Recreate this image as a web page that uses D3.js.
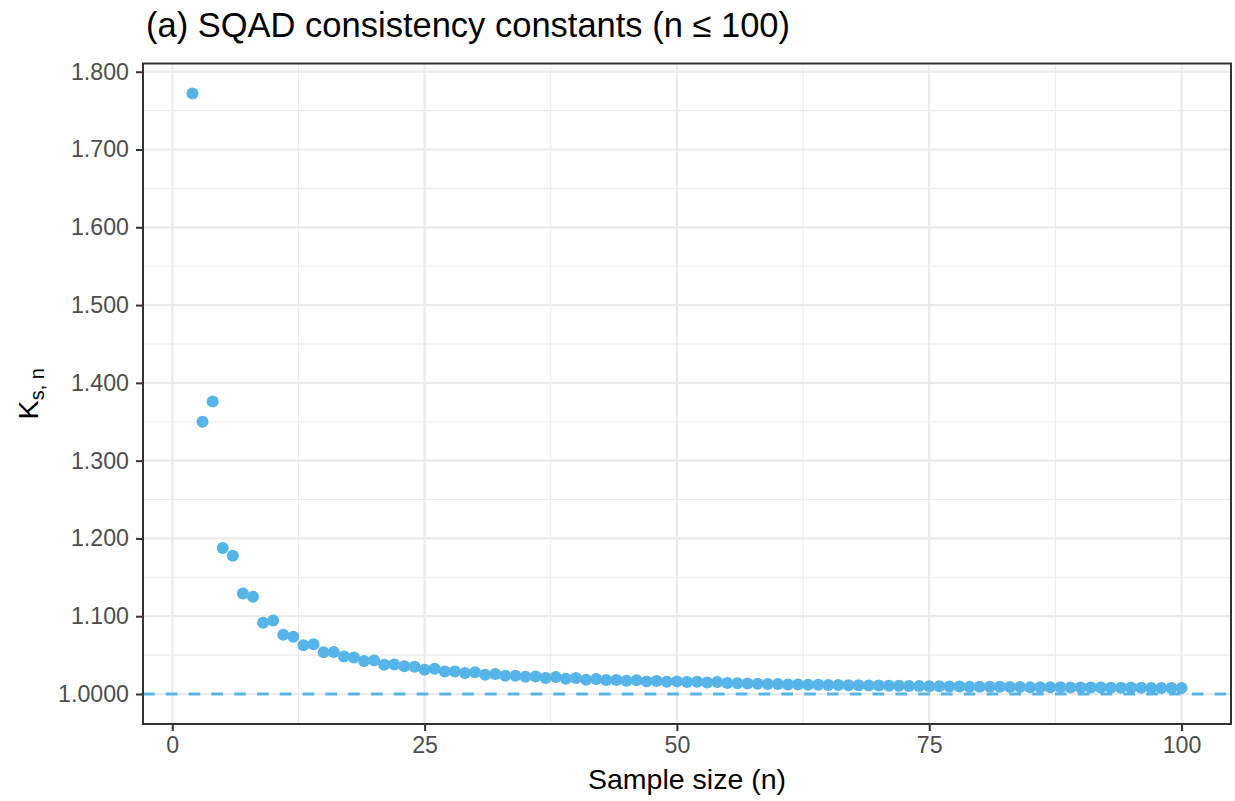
<!DOCTYPE html>
<html><head><meta charset="utf-8">
<script src="https://cdn.jsdelivr.net/npm/d3@7"></script>
<style>
html,body{margin:0;padding:0;background:#fff;}
svg{display:block;font-family:"Liberation Sans",Arial,Helvetica,sans-serif;}
</style></head>
<body>
<svg id="chart" width="1235" height="801"></svg>
<script>
// ---- data ----
const sampleSizes = d3.range(2, 101);
const constants = [
  1.772, 1.350, 1.376, 1.1877, 1.1778, 1.1293, 1.1251, 1.0917, 1.0946, // n=2..10
  1.0762, 1.0737, 1.0625, 1.0638, 1.0535, 1.0540, 1.0483, 1.0470, 1.0424, 1.0432, // 11..20
  1.0377, 1.0380, 1.0355, 1.0351, 1.0312, 1.0325, 1.0290, 1.0290, 1.0270, 1.0278, // 21..30
  1.0248, 1.0257, 1.0235, 1.0235, 1.0222, 1.0226, 1.0206, 1.0218, 1.0197, 1.0206, // 31..40
  1.0184, 1.0193, 1.0180, 1.0180, 1.0171, 1.0175, 1.0162, 1.0167, 1.0158, 1.0162, // 41..50
  1.0154, 1.0158, 1.0149, 1.0154, 1.0140, 1.0138, 1.0134, 1.0132, 1.0128, 1.0127, // 51..60
  1.0123, 1.0122, 1.0119, 1.0118, 1.0115, 1.0114, 1.0112, 1.0111, 1.0108, 1.0108, // 61..70
  1.0105, 1.0105, 1.0102, 1.0102, 1.0100, 1.0099, 1.0097, 1.0097, 1.0094, 1.0094, // 71..80
  1.0092, 1.0092, 1.0090, 1.0090, 1.0088, 1.0088, 1.0086, 1.0086, 1.0084, 1.0084, // 81..90
  1.0082, 1.0082, 1.0081, 1.0081, 1.0079, 1.0079, 1.0078, 1.0078, 1.0076, 1.0077  // 91..100
];
const referenceLine = 1.0;
const xTicks = [0, 25, 50, 75, 100];
const xTickLabels = ["0", "25", "50", "75", "100"];
const xMinor = [12.5, 37.5, 62.5, 87.5];
const yTicks = [1.0, 1.1, 1.2, 1.3, 1.4, 1.5, 1.6, 1.7, 1.8];
const yTickLabels = ["1.0000", "1.100", "1.200", "1.300", "1.400", "1.500", "1.600", "1.700", "1.800"];
const yMinor = [1.05, 1.15, 1.25, 1.35, 1.45, 1.55, 1.65, 1.75];
const titleText = "(a) SQAD consistency constants (n \u2264 100)";
const xTitle = "Sample size (n)";

// ---- layout ----
const panel = {left: 143, right: 1231, top: 63.5, bottom: 724};
const color = "#56B4E9";
const svg = d3.select("#chart");

const xr = [d3.min(sampleSizes), d3.max(sampleSizes)];
const xpad = (xr[1] - xr[0]) * 0.05;
const x = d3.scaleLinear().domain([xr[0] - xpad, xr[1] + xpad]).range([panel.left, panel.right]);
const yr = [Math.min(d3.min(constants), referenceLine), d3.max(constants)];
const ypad = (yr[1] - yr[0]) * 0.05;
const y = d3.scaleLinear().domain([yr[0] - ypad, yr[1] + ypad]).range([panel.bottom, panel.top]);

const W = panel.right - panel.left, H = panel.bottom - panel.top;
svg.append("rect").attr("x", panel.left).attr("y", panel.top).attr("width", W).attr("height", H).attr("fill", "#fff");

const grid = svg.append("g");
// minor grid
grid.selectAll(".ym").data(yMinor).join("line")
  .attr("x1", panel.left).attr("x2", panel.right).attr("y1", d => y(d)).attr("y2", d => y(d))
  .attr("stroke", "#EBEBEB").attr("stroke-width", 1.1);
grid.selectAll(".xm").data(xMinor).join("line")
  .attr("y1", panel.top).attr("y2", panel.bottom).attr("x1", d => x(d)).attr("x2", d => x(d))
  .attr("stroke", "#EBEBEB").attr("stroke-width", 1.1);
// major grid
grid.selectAll(".yM").data(yTicks).join("line")
  .attr("x1", panel.left).attr("x2", panel.right).attr("y1", d => y(d)).attr("y2", d => y(d))
  .attr("stroke", "#EBEBEB").attr("stroke-width", 2.2);
grid.selectAll(".xM").data(xTicks).join("line")
  .attr("y1", panel.top).attr("y2", panel.bottom).attr("x1", d => x(d)).attr("x2", d => x(d))
  .attr("stroke", "#EBEBEB").attr("stroke-width", 2.2);

// reference dashed line
svg.append("line")
  .attr("x1", panel.left).attr("x2", panel.right)
  .attr("y1", y(referenceLine)).attr("y2", y(referenceLine))
  .attr("stroke", color).attr("stroke-width", 2.9).attr("stroke-dasharray", "11.6,11.2");

// points
svg.append("g").selectAll("circle").data(sampleSizes).join("circle")
  .attr("cx", (d) => x(d)).attr("cy", (d, i) => y(constants[i]))
  .attr("r", 6).attr("fill", color);

// panel border
svg.append("rect").attr("x", panel.left).attr("y", panel.top).attr("width", W).attr("height", H)
  .attr("fill", "none").attr("stroke", "#333333").attr("stroke-width", 2);

// axes
const xAxis = d3.axisBottom(x).tickValues(xTicks).tickFormat((d, i) => xTickLabels[i]).tickSize(7).tickPadding(6);
const gx = svg.append("g").attr("transform", `translate(0,${panel.bottom})`).call(xAxis);
const yAxis = d3.axisLeft(y).tickValues(yTicks).tickFormat((d, i) => yTickLabels[i]).tickSize(7).tickPadding(7);
const gy = svg.append("g").attr("transform", `translate(${panel.left},0)`).call(yAxis);
[gx, gy].forEach(g => {
  g.select(".domain").remove();
  g.selectAll(".tick line").attr("stroke", "#333333").attr("stroke-width", 2);
  g.selectAll(".tick text").attr("fill", "#4D4D4D").style("font-size", "23.2px")
   .style("font-family", '"Liberation Sans",Arial,sans-serif');
});

// titles
svg.append("text").attr("x", 146).attr("y", 37).attr("fill", "#000")
  .style("font-size", "34.5px").text(titleText);
svg.append("text").attr("x", (panel.left + panel.right) / 2).attr("y", 789)
  .attr("text-anchor", "middle").attr("fill", "#000").style("font-size", "28.5px").text(xTitle);
const yt = svg.append("text")
  .attr("transform", `translate(38,${(panel.top + panel.bottom) / 2}) rotate(-90)`)
  .attr("text-anchor", "middle").attr("fill", "#000").style("font-size", "28.5px");
yt.append("tspan").text("K");
yt.append("tspan").attr("dy", 6).style("font-size", "20px").text("s, n");
</script>
</body></html>
